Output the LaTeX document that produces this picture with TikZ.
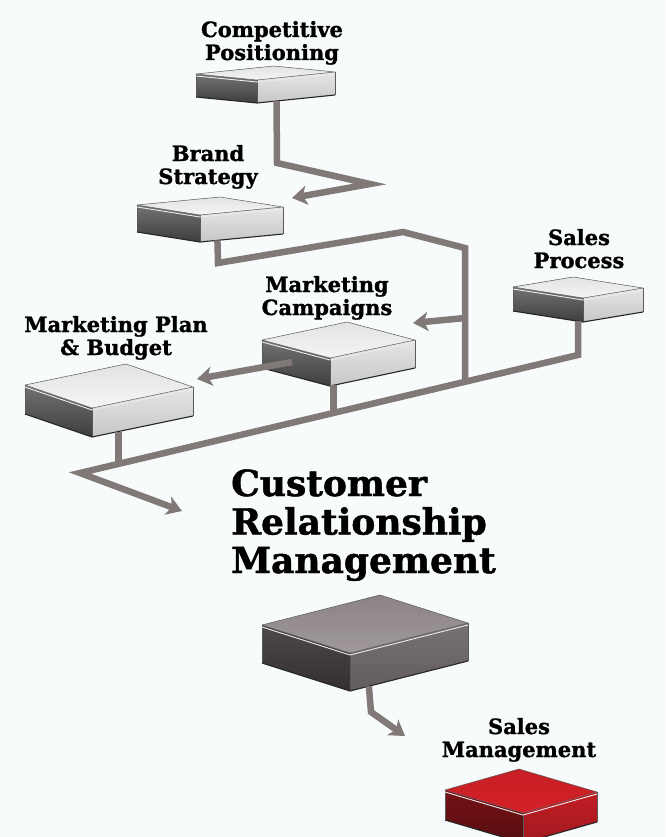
\documentclass[tikz,border=0pt]{standalone}
\usepackage{fontspec}
\setmainfont{DejaVu Serif}[BoldFeatures={FakeBold=1.3}]
\usetikzlibrary{arrows.meta,calc}
\definecolor{paper}{RGB}{248,251,252}
\definecolor{linkgray}{RGB}{128,121,119}
\definecolor{hotred}{RGB}{214,33,40}
\tikzset{
  plain top/.style={top color=black!11,bottom color=black!4},     % light slab
  plain left/.style={top color=black!55,bottom color=black!76},
  plain front/.style={top color=black!10,bottom color=black!22},
  dark top/.style={top color={rgb,255:red,140;green,132;blue,132},bottom color={rgb,255:red,160;green,153;blue,153}}, % CRM slab
  dark left/.style={top color={rgb,255:red,78;green,72;blue,72},bottom color={rgb,255:red,52;green,48;blue,48}},
  dark front/.style={top color={rgb,255:red,120;green,113;blue,113},bottom color={rgb,255:red,98;green,92;blue,92}},
  hot top/.style={top color=hotred!92!black,bottom color=hotred},  % red slab
  hot left/.style={top color=hotred!55!black,bottom color=hotred!40!black},
  hot front/.style={top color=hotred!90!black,bottom color=hotred!75!black},
  slab rim/.style={white!85!gray,line width=0.9pt},
  slab edge/.style={black!65,line width=0.5pt,line join=round},
  slab base/.style={black!85,line width=1.1pt},
  link/.style={linkgray,line width=6.5pt,line join=miter},
  tip/.style={-{Stealth[length=15pt,width=19pt,inset=4pt]}},
  lbl/.style={font=\bfseries\fontsize{21}{23}\selectfont,align=center,anchor=base,inner sep=0pt},
  title/.style={font=\bfseries\fontsize{36}{38.5}\selectfont,align=left,anchor=base west,inner sep=0pt},
}
% slab: [palette]{name}{front top corner}{left edge}{right edge}{height}
\newcommand{\slab}[6][plain]{%
  \coordinate (#2) at (#3);
  \coordinate (#2-l) at ($(#2)+(#4)$);
  \coordinate (#2-r) at ($(#2)+(#5)$);
  \coordinate (#2-b) at ($(#2-l)+(#5)$);
  \coordinate (#2-fb) at ($(#2)+(0,#6)$);
  \coordinate (#2-lb) at ($(#2-l)+(0,#6)$);
  \coordinate (#2-rb) at ($(#2-r)+(0,#6)$);
  \path[#1 left] (#2-l) -- (#2) -- (#2-fb) -- (#2-lb) -- cycle;
  \path[#1 front] (#2) -- (#2-r) -- (#2-rb) -- (#2-fb) -- cycle;
  \path[#1 top] (#2) -- (#2-l) -- (#2-b) -- (#2-r) -- cycle;
  \draw[slab edge] (#2) -- (#2-l) -- (#2-b) -- (#2-r) -- cycle;
  \draw[slab edge] (#2-l) -- (#2-lb) (#2) -- (#2-fb) (#2-r) -- (#2-rb);
  \draw[slab rim] ($(#2-l)+(0,2)$) -- ($(#2)+(0,2)$) -- ($(#2-r)+(0,2)$);
  \draw[slab base] (#2-lb) -- (#2-fb) -- (#2-rb);
}

\begin{document}
\begin{tikzpicture}[x=1pt,y=-1pt]
  \fill[paper] (0,0) rectangle (665,837);
  \useasboundingbox (0,0) rectangle (665,837);
  \clip (0,0) rectangle (665,837);

  % slabs
  \slab{cp}{257,80}{-61,-6}{78,-8}{23}
  \slab{bs}{200,215}{-63,-10}{83,-8}{27}
  \slab{sp}{583,298}{-70,-11}{60,-10}{24}
  \slab{mc}{330,358}{-68,-18}{85,-18}{28}
  \slab{mpb}{92,408}{-67,-23}{101,-21}{29}
  \slab[dark]{crm}{350,653}{-88,-28}{118,-30}{38}
  \slab[hot]{sm}{523,813}{-78,-23}{74,-21}{30}

  % labels (anchored at the last baseline)
  \node[lbl] (cp-label) at (272,60) {Competitive\\Positioning};
  \node[lbl] (bs-label) at (208,184) {Brand\\Strategy};
  \node[lbl] (mc-label) at (327,315) {Marketing\\Campaigns};
  \node[lbl] (mpb-label) at (116,355) {Marketing Plan\\\& Budget};
  \node[lbl] (sp-label) at (579,268) {Sales\\Process};
  \node[lbl] (sm-label) at (519,757) {Sales\\Management};
  \node[title] (crm-label) at (231,573) {Customer\\Relationship\\Management};

  % stems and bends
  \coordinate (cp-stem) at ($(cp-fb)!0.25!(cp-rb)$);
  \coordinate (bs-stem) at ($(bs-fb)!0.21!(bs-rb)$);
  \coordinate (mc-stem) at ($(mc-fb)!0.04!(mc-rb)$);
  \coordinate (mpb-stem) at ($(mpb-fb)!0.26!(mpb-rb)$);
  \coordinate (sp-stem) at ($(sp-fb)!0.07!(sp-lb)$);
  \coordinate (crm-stem) at ($(crm-fb)!0.16!(crm-rb)$);
  \coordinate (cp-knee) at (277,163);
  \coordinate (cp-turn) at (370,184);
  \coordinate (bs-in) at (292,198);
  \coordinate (bs-knee) at (218,263);
  \coordinate (bs-ridge) at (403,232);
  \coordinate (bus-top) at (465,248);
  \coordinate (sp-knee) at (578,355);
  \coordinate (bus-end) at (80,473);
  \coordinate (bus-join) at ($(sp-knee)!0.227!(bus-end)$);
  \coordinate (mc-join) at ($(sp-knee)!0.488!(bus-end)$);
  \coordinate (mpb-join) at ($(sp-knee)!0.924!(bus-end)$);
  \coordinate (mc-tap) at (465,318);
  \coordinate (mc-in) at (413,323);
  \coordinate (mc-out) at (292,362);
  \coordinate (mpb-in) at (197,379);
  \coordinate (crm-in) at (182,511);
  \coordinate (crm-knee) at (371,712);
  \coordinate (sm-in) at (405,736);

  % connectors
  \draw[link,tip] (cp-stem) -- (cp-knee) -- (cp-turn) -- (bs-in);
  \draw[link] (bs-stem) -- (bs-knee) -- (bs-ridge) -- (bus-top) -- (bus-top |- bus-join);
  \draw[link,tip] (mc-tap) -- (mc-in);
  \draw[link,tip] (sp-stem) -- (sp-knee) -- (bus-end) -- (crm-in);
  \draw[link] (mc-stem) -- (mc-stem |- mc-join);
  \draw[link] (mpb-stem) -- (mpb-stem |- mpb-join);
  \draw[link,tip] (mc-out) -- (mpb-in);
  \draw[link,tip] (crm-stem) -- (crm-knee) -- (sm-in);
\end{tikzpicture}
\end{document}
